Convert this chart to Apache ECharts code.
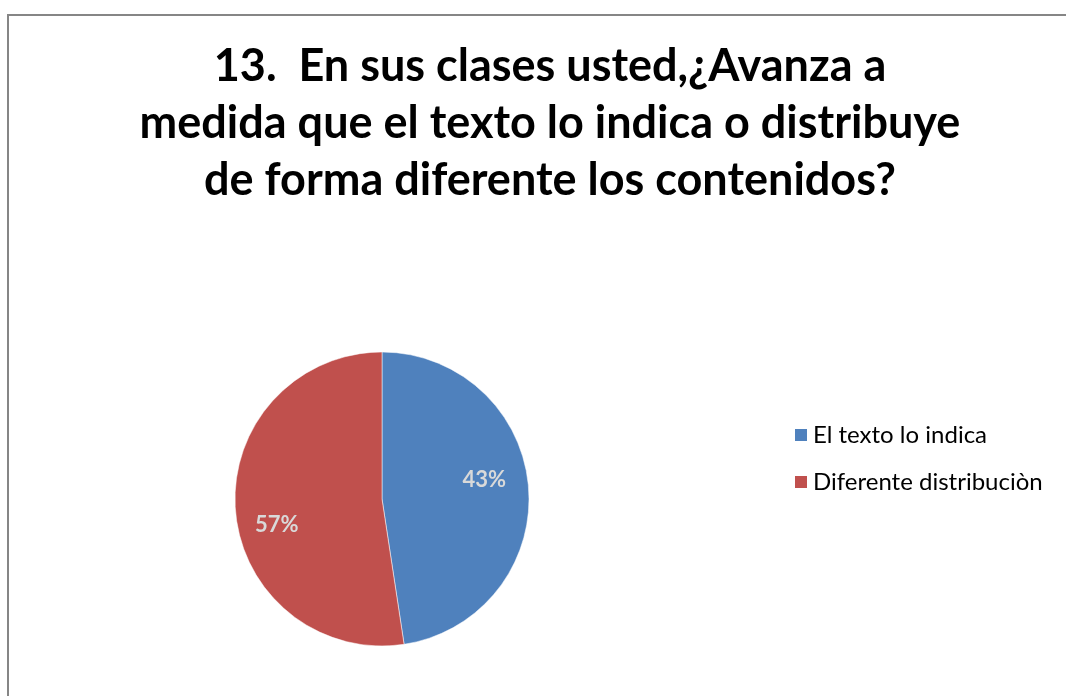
<!DOCTYPE html>
<html>
<head>
<meta charset="utf-8">
<script src="https://cdn.jsdelivr.net/npm/echarts@6/dist/echarts.min.js"></script>
<style>
  html, body { margin: 0; padding: 0; background: #fff; }
  #main { width: 1066px; height: 696px; }
</style>
</head>
<body>
<div id="main"></div>
<script>
// data
var categories = ["El texto lo indica", "Diferente distribuciòn"];
var sliceValues = [47.6, 52.4];     // slice sizes as drawn
var pctLabels = ["43%", "57%"];     // labels printed on the slices
var sliceColors = ["#4F81BD", "#C0504D"];
var labelShift = [[26, -13], [-29, 20]];
var titleText = "13.  En sus clases usted,¿Avanza a\nmedida que el texto lo indica o distribuye\nde forma diferente los contenidos?";

var chart = echarts.init(document.getElementById("main"));

var option = {
  backgroundColor: "#fff",
  animation: false,
  graphic: [
    {
      type: "rect",
      shape: { x: 8, y: 15, width: 1200, height: 900 },
      style: { fill: "none", stroke: "#868686", lineWidth: 2 },
      silent: true,
    },
  ],
  title: {
    text: titleText,
    left: 545,
    top: 33,
    textAlign: "center",
    textStyle: {
      fontFamily: "Lato",
      fontWeight: "bold",
      fontSize: 45,
      lineHeight: 57,
      color: "#000",
    },
  },
  legend: {
    orient: "vertical",
    left: 788,
    top: 418,
    itemWidth: 14,
    itemHeight: 14,
    itemGap: 23,
    icon: "rect",
    data: categories,
    textStyle: {
      fontFamily: "Lato",
      fontSize: 24,
      lineHeight: 24,
      color: "#000",
      padding: [0, 0, 0, 0],
    },
  },
  series: [
    {
      type: "pie",
      center: [382, 499],
      radius: 147,
      startAngle: 90,
      clockwise: true,
      label: {
        show: true,
        position: "inside",
        formatter: function (p) {
          return pctLabels[p.dataIndex];
        },
        fontFamily: "Lato",
        fontWeight: "bold",
        fontSize: 22,
        color: "#D9D9D9",
      },
      labelLine: { show: false },
      itemStyle: { borderColor: "#ffffff", borderWidth: 0.5 },
      emphasis: { disabled: true },
      data: categories.map(function (c, i) {
        return {
          name: c,
          value: sliceValues[i],
          itemStyle: { color: sliceColors[i] },
          label: { offset: labelShift[i] },
        };
      }),
    },
  ],
};

chart.setOption(option);
</script>
</body>
</html>
